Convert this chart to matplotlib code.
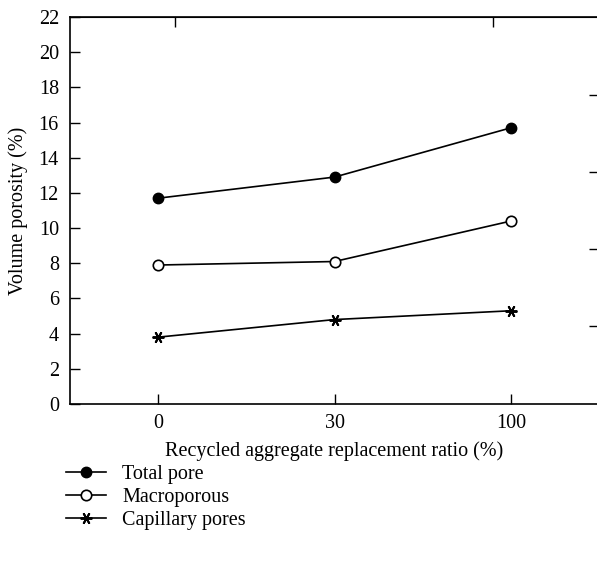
import matplotlib
matplotlib.use("Agg")
import matplotlib.pyplot as plt

categories = ["0", "30", "100"]
total_pore = [11.7, 12.9, 15.7]
macroporous = [7.9, 8.1, 10.4]
capillary = [3.8, 4.8, 5.3]
yticks = list(range(0, 23, 2))

plt.rcParams['font.family'] = ['Liberation Serif', 'DejaVu Serif']
plt.rcParams['font.size'] = 14.5

fig = plt.figure(figsize=(5.97, 5.67), dpi=100)
ax = fig.add_axes([70/597, 1-404/567, 529/597, 387/567])

x = list(range(len(categories)))
ax.plot(x, total_pore, color='black', lw=1.2, marker='o', ms=7.5,
        mfc='black', mec='black', label='Total pore')
ax.plot(x, macroporous, color='black', lw=1.2, marker='o', ms=7.5,
        mfc='white', mec='black', mew=1.2, label='Macroporous')
ax.plot(x, capillary, color='black', lw=1.2, marker=(6, 2, 90), ms=8.5,
        mec='black', mew=1.4, label='Capillary pores')

ax.set_xlim(-0.5, 2.5)
ax.set_ylim(0, 22)
ax.set_xticks(x)
ax.set_xticklabels(categories)
ax.set_yticks(yticks)
ax.tick_params(direction='in', length=7, width=1, pad=8, colors='black')
ax.tick_params(axis='x', pad=7)
for s in ax.spines.values():
    s.set_linewidth(1.2)

# secondary (unlabelled) ticks on top and right spines
axt = ax.secondary_xaxis('top')
axt.set_xticks([0.097, 1.90])
axt.set_xticklabels([])
axt.tick_params(direction='in', length=7, width=1)
axr = ax.secondary_yaxis('right')
axr.set_yticks([4.43, 8.81, 13.18, 17.56])
axr.set_yticklabels([])
axr.tick_params(direction='in', length=7, width=1)

ax.set_xlabel('Recycled aggregate replacement ratio (%)', labelpad=6)
ax.set_ylabel('Volume porosity (%)', labelpad=8)

fig.legend(loc='upper left', bbox_to_anchor=(66/597, 1-465/567),
           frameon=False, handlelength=2.0, handletextpad=0.8,
           labelspacing=0.2, borderaxespad=0, borderpad=0)

fig.savefig('out.png', dpi=100)
